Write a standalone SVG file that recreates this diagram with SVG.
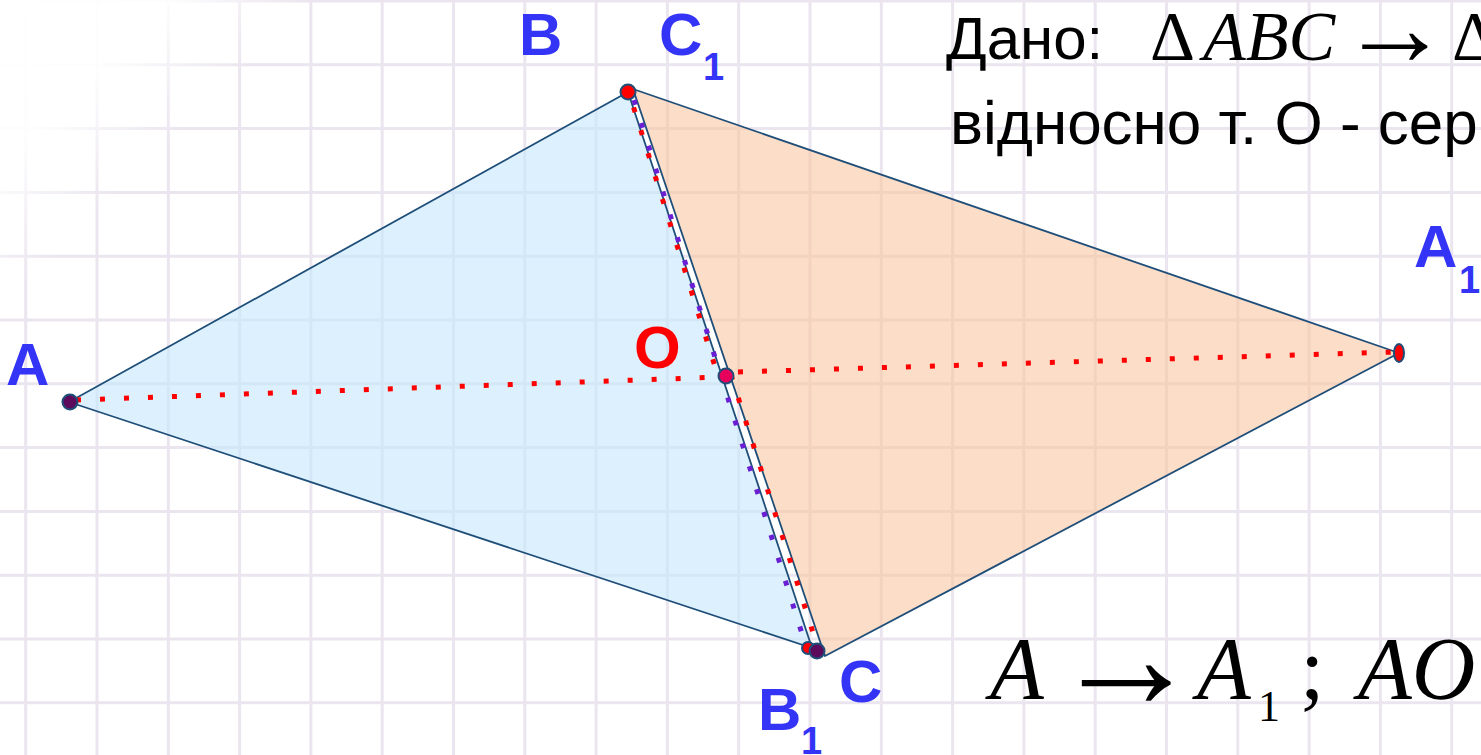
<svg xmlns="http://www.w3.org/2000/svg" width="1481" height="755" viewBox="0 0 1481 755">
  <defs>
    <linearGradient id="fade" gradientUnits="userSpaceOnUse" x1="0" y1="0" x2="200" y2="200">
      <stop offset="0" stop-color="#ffffff" stop-opacity="1"/>
      <stop offset="0.42" stop-color="#ffffff" stop-opacity="0.92"/>
      <stop offset="0.78" stop-color="#ffffff" stop-opacity="0"/>
    </linearGradient>
  </defs>
  <style>
    .grid line { stroke: #ebe5ef; stroke-width: 3; }
    .edge { stroke: #1f4e79; stroke-width: 1.8; stroke-linejoin: round; }
    .blue { fill: #c6e8fb; fill-opacity: 0.62; }
    .orange { fill: #f9c29b; fill-opacity: 0.56; }
    .dotR { stroke: #ff0000; stroke-width: 5; stroke-dasharray: 5 19; fill: none; }
    .dotP { stroke: #6a1fd4; stroke-width: 5; stroke-dasharray: 5 19; fill: none; }
    .pt { stroke: #1f4e79; stroke-width: 2; }
    .lbl { font-family: "Liberation Sans", Arial, sans-serif; font-weight: bold; font-size: 60px; fill: #3434f6; }
    .sub { font-family: "Liberation Sans", Arial, sans-serif; font-weight: bold; font-size: 38px; fill: #3434f6; }
    .txt { font-family: "Liberation Sans", Arial, sans-serif; font-size: 60px; fill: #000; }
    .math { font-family: "Liberation Serif", "Times New Roman", serif; font-size: 70px; fill: #000; }
    .mathB { font-family: "Liberation Serif", "Times New Roman", serif; font-size: 88px; fill: #000; }
    .it { font-style: italic; }
  </style>
  <rect x="0" y="0" width="1481" height="755" fill="#ffffff"/>
  <g id="grid" class="grid">
    <line x1="25.7" y1="0" x2="25.7" y2="755"/>
    <line x1="97" y1="0" x2="97" y2="755"/>
    <line x1="168.3" y1="0" x2="168.3" y2="755"/>
    <line x1="239.6" y1="0" x2="239.6" y2="755"/>
    <line x1="310.9" y1="0" x2="310.9" y2="755"/>
    <line x1="382.2" y1="0" x2="382.2" y2="755"/>
    <line x1="453.5" y1="0" x2="453.5" y2="755"/>
    <line x1="524.8" y1="0" x2="524.8" y2="755"/>
    <line x1="596.1" y1="0" x2="596.1" y2="755"/>
    <line x1="667.4" y1="0" x2="667.4" y2="755"/>
    <line x1="738.7" y1="0" x2="738.7" y2="755"/>
    <line x1="810" y1="0" x2="810" y2="755"/>
    <line x1="881.3" y1="0" x2="881.3" y2="755"/>
    <line x1="952.6" y1="0" x2="952.6" y2="755"/>
    <line x1="1023.9" y1="0" x2="1023.9" y2="755"/>
    <line x1="1095.2" y1="0" x2="1095.2" y2="755"/>
    <line x1="1166.5" y1="0" x2="1166.5" y2="755"/>
    <line x1="1237.8" y1="0" x2="1237.8" y2="755"/>
    <line x1="1309.1" y1="0" x2="1309.1" y2="755"/>
    <line x1="1380.4" y1="0" x2="1380.4" y2="755"/>
    <line x1="1451.7" y1="0" x2="1451.7" y2="755"/>
    <line x1="0" y1="1" x2="1481" y2="1"/>
    <line x1="0" y1="64.8" x2="1481" y2="64.8"/>
    <line x1="0" y1="128.6" x2="1481" y2="128.6"/>
    <line x1="0" y1="192.4" x2="1481" y2="192.4"/>
    <line x1="0" y1="256.2" x2="1481" y2="256.2"/>
    <line x1="0" y1="320" x2="1481" y2="320"/>
    <line x1="0" y1="383.8" x2="1481" y2="383.8"/>
    <line x1="0" y1="447.6" x2="1481" y2="447.6"/>
    <line x1="0" y1="511.4" x2="1481" y2="511.4"/>
    <line x1="0" y1="575.2" x2="1481" y2="575.2"/>
    <line x1="0" y1="639" x2="1481" y2="639"/>
    <line x1="0" y1="702.8" x2="1481" y2="702.8"/>
  </g>
  <rect x="0" y="0" width="1481" height="755" fill="url(#fade)"/>

  <g id="triangles">
    <polygon id="triangle-ABC" class="blue edge" points="69,402 628,92 812,648"/>
    <polygon id="triangle-A1B1C1" class="orange edge" points="633,89 1399,353 825,656"/>
  </g>

  <g id="connectors">
    <line class="dotR" x1="76" y1="400" x2="722" y2="377"/>
    <line class="dotR" x1="738" y1="372" x2="1395" y2="352"/>
    <line class="dotP" x1="634" y1="100" x2="804" y2="640"/>
    <line class="dotR" x1="630" y1="96" x2="718" y2="376" stroke-dashoffset="12"/>
    <line class="dotR" x1="731" y1="375" x2="823" y2="664"/>
  </g>

  <g id="node-A">
    <circle class="pt" cx="70" cy="402" r="7.5" fill="#5c0a5c"/>
    <text class="lbl" x="6" y="385">A</text>
  </g>
  <g id="node-B-C1">
    <circle class="pt" cx="628" cy="92" r="7.5" fill="#ff0000"/>
    <text class="lbl" x="519" y="55">B</text>
    <text class="lbl" x="659" y="55">C</text>
    <text class="sub" x="703" y="80">1</text>
  </g>
  <g id="node-O">
    <circle class="pt" cx="726" cy="376" r="7.5" fill="#e6005c"/>
    <text class="lbl" x="634" y="368" style="fill:#ff0000">O</text>
  </g>
  <g id="node-A1">
    <ellipse class="pt" cx="1399" cy="353" rx="5" ry="9" fill="#ff0000"/>
    <text class="lbl" x="1414" y="267">A</text>
    <text class="sub" x="1459" y="293">1</text>
  </g>
  <g id="node-C-B1">
    <circle class="pt" cx="808" cy="648" r="6" fill="#ff0000"/>
    <circle class="pt" cx="817" cy="651" r="7.5" fill="#5c0a5c"/>
    <text class="lbl" x="839" y="702">C</text>
    <text class="lbl" x="758" y="730">B</text>
    <text class="sub" x="801" y="754">1</text>
  </g>

  <g id="given-text">
    <text class="txt" x="946" y="59">Дано:</text>
    <text class="math" x="1150" y="60">Δ</text>
    <text class="math it" x="1203" y="60">ABC</text>
    <text class="math" x="1340" y="65" style="font-size:110px">→</text>
    <text class="math" x="1452" y="60">Δ</text>
    <text class="txt" x="950" y="144" style="font-size:62px">відносно т. О - сер</text>
  </g>
  <g id="mapping-text">
    <text class="mathB it" x="990" y="698">A</text>
    <text class="math" x="1051" y="708" style="font-size:150px">→</text>
    <text class="mathB it" x="1197" y="698">A</text>
    <text class="math" x="1258" y="721" style="font-size:44px">1</text>
    <text class="mathB" x="1300" y="698">;</text>
    <text class="mathB it" x="1358" y="698">AO</text>
  </g>
</svg>
